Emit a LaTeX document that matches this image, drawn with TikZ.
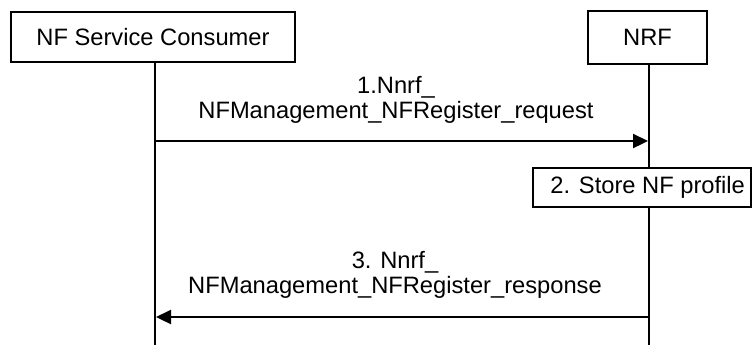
\documentclass[tikz,border=0pt]{standalone}
\usepackage{fontspec}
\setmainfont{Liberation Sans}
\usetikzlibrary{arrows.meta}
\begin{document}
\begin{tikzpicture}[x=0.5pt,y=-0.5pt,
  every node/.style={font=\fontsize{11.85}{12.5}\selectfont},
  entity/.style={draw, line width=0.8pt, fill=white, inner sep=0pt},
  lifeline/.style={line width=0.8pt},
  msg/.style={line width=1.1pt, -{Triangle[length=7.5pt,width=7pt]}},
  lbl/.style={align=center, inner sep=0pt}]
\useasboundingbox (0,0) rectangle (753,345);
% entities
\node (cons) [entity, minimum width=142pt, minimum height=25pt] at (153,37) {NF Service Consumer};
\node (nrf) [entity, minimum width=59.5pt, minimum height=26.5pt] at (647.5,37.5) {NRF};
% lifeline ends
\coordinate (consend) at (155,345);
\coordinate (nrfend) at (649,345);
\coordinate (consl) at (155,62);
\coordinate (nrfl) at (649,64);
\draw[lifeline] (consl) -- (consend);
\draw[lifeline] (nrfl) -- (nrfend);
% store box
\node (store) [entity, anchor=north west, minimum width=109pt, minimum height=19.5pt] at (532,167) {};
\node (storetxt) [anchor=west, inner sep=0pt] at ([xshift=9pt]store.west) {2. Store NF profile};
% messages
\coordinate (m1s) at (155,141);
\coordinate (m1e) at (648,141);
\coordinate (m3s) at (649,317);
\coordinate (m3e) at (156,317);
\draw[msg] (m1s) -- (m1e);
\draw[msg] (m3s) -- (m3e);
\node (l1) [lbl] at (396,100) {1.Nnrf\_\\NFManagement\_NFRegister\_request};
\node (l3) [lbl] at (395,275) {3. Nnrf\_\\NFManagement\_NFRegister\_response};
\end{tikzpicture}
\end{document}
